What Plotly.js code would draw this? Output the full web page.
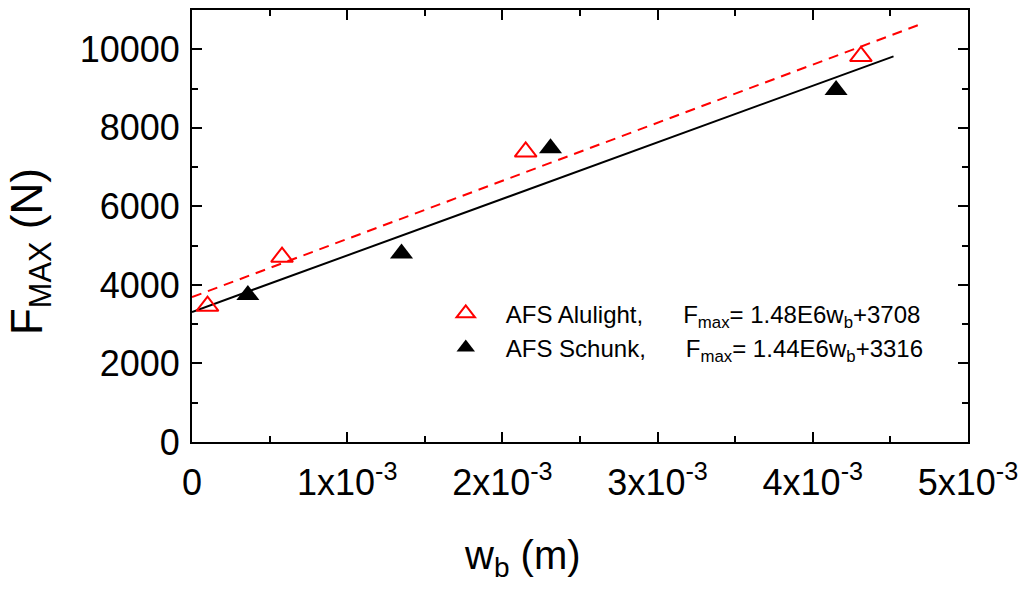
<!DOCTYPE html>
<html>
<head>
<meta charset="utf-8">
<script src="https://cdn.plot.ly/plotly-3.0.1.min.js"></script>
<style>
  body { margin: 0; background: #fff; }
  #graf { width: 1024px; height: 603px; }
</style>
</head>
<body>
<div id="graf"></div>
<script>
// measured points (w_b in m, F_max in N)
var alulightX = [0.10e-3, 0.58e-3, 2.15e-3, 4.31e-3];
var alulightY = [3460, 4710, 7390, 9820];
var schunkX = [0.36e-3, 1.35e-3, 2.31e-3, 4.15e-3];
var schunkY = [3740, 4800, 7480, 8960];

// fit line end points
var fitAluX = [0, 4.71e-3];
var fitAluY = [3690, 10660];
var fitSchX = [0, 4.52e-3];
var fitSchY = [3310, 9820];

var xTicks = [0, 1e-3, 2e-3, 3e-3, 4e-3, 5e-3];
var xTickText = ["0", "1x10<sup>-3</sup>", "2x10<sup>-3</sup>", "3x10<sup>-3</sup>",
                 "4x10<sup>-3</sup>", "5x10<sup>-3</sup>"];

var sp = "&nbsp;&nbsp;&nbsp;";
var gap = "&nbsp;&nbsp;&nbsp;&nbsp;&nbsp;&nbsp;";
var nameAlu = sp + "AFS Alulight," + gap + "F<sub>max</sub>= 1.48E6w<sub>b</sub>+3708";
var nameSch = sp + "AFS Schunk," + gap + "F<sub>max</sub>= 1.44E6w<sub>b</sub>+3316";

var font = "Liberation Sans, Arial, sans-serif";

var data = [
    {x: fitAluX, y: fitAluY, mode: 'lines', showlegend: false, hoverinfo: 'skip',
     line: {color: '#ff0000', width: 2, dash: '10px,7px'}},
    {x: fitSchX, y: fitSchY, mode: 'lines', showlegend: false, hoverinfo: 'skip',
     line: {color: '#000000', width: 2}},
    {x: alulightX, y: alulightY, mode: 'markers', name: nameAlu,
     marker: {symbol: 'triangle-up-open', size: 19, color: '#ff0000', line: {width: 2, color: '#ff0000'}}},
    {x: schunkX, y: schunkY, mode: 'markers', name: nameSch,
     marker: {symbol: 'triangle-up', size: 20, color: '#000000'}}
];

var axisCommon = {
    showgrid: false, zeroline: false,
    showline: true, linecolor: '#000', linewidth: 2, mirror: 'ticks',
    ticks: 'inside', ticklen: 10, tickwidth: 2, tickcolor: '#000',
    tickfont: {family: font, size: 36, color: '#000'}
};

var layout = {
    width: 1024, height: 603,
    margin: {l: 192, r: 56, t: 10, b: 161},
    paper_bgcolor: '#fff', plot_bgcolor: '#fff',
    font: {family: font, color: '#000'},
    xaxis: Object.assign({}, axisCommon, {
        range: [0, 5e-3], tickmode: 'array', tickvals: xTicks, ticktext: xTickText,
        ticklabelstandoff: 8,
        minor: {dtick: 0.5e-3, tick0: 0, ticks: 'inside', ticklen: 6, tickwidth: 2, tickcolor: '#000'}
    }),
    yaxis: Object.assign({}, axisCommon, {
        range: [0, 11000], dtick: 2000, tick0: 0, tickformat: 'd', ticklabelstandoff: 3,
        minor: {dtick: 1000, tick0: 0, ticks: 'inside', ticklen: 6, tickwidth: 2, tickcolor: '#000'}
    }),
    legend: {
        x: 0.327, y: 0.349, xanchor: 'left', yanchor: 'top',
        bgcolor: 'rgba(0,0,0,0)', borderwidth: 0,
        font: {family: font, size: 24, color: '#000'},
        tracegroupgap: 0
    },
    annotations: [
        {text: "w<sub>b</sub> (m)", xref: 'paper', yref: 'paper', x: 0.4265, y: -0.268,
         xanchor: 'center', yanchor: 'middle', showarrow: false,
         font: {family: font, size: 40, color: '#000'}},
        {text: "F<sub>MAX</sub> (N)", xref: 'paper', yref: 'paper', x: -0.209, y: 0.4416,
         xanchor: 'center', yanchor: 'middle', showarrow: false, textangle: -90,
         font: {family: font, size: 44, color: '#000'}}
    ],
    showlegend: true
};

Plotly.newPlot('graf', data, layout, {displayModeBar: false, staticPlot: true});
</script>
</body>
</html>
